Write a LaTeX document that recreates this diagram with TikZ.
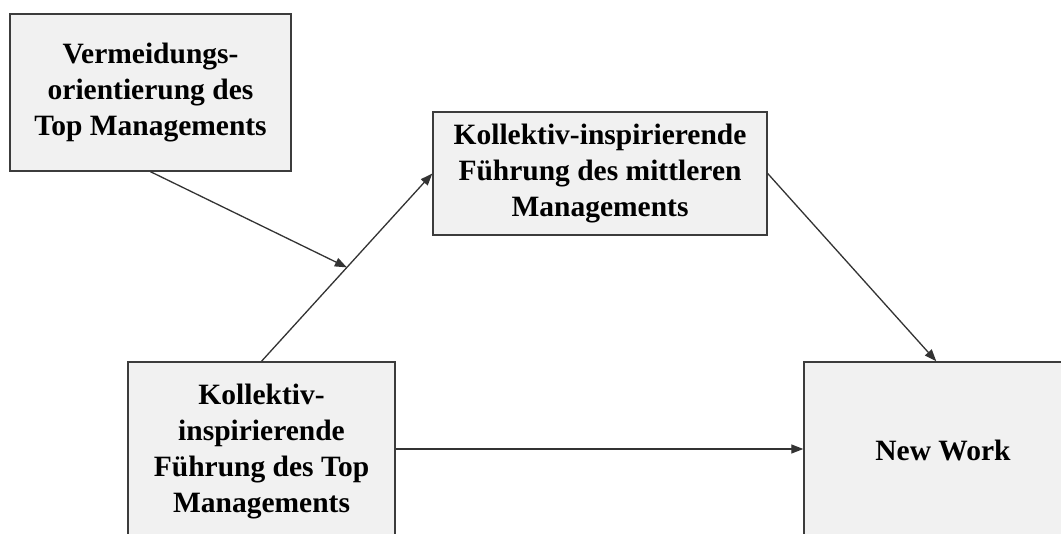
\documentclass[tikz,border=0pt]{standalone}
\usepackage{fontspec}
\setmainfont{Liberation Serif}
\usetikzlibrary{arrows.meta,calc}
\definecolor{boxfill}{HTML}{F1F1F1}
\definecolor{boxline}{HTML}{3C3C3C}
\definecolor{wire}{HTML}{333333}
\tikzset{
  box/.style={draw=boxline, fill=boxfill, line width=1.4pt, inner sep=0pt,
    align=center, font=\fontsize{29.5}{36}\selectfont\bfseries},
  link/.style={draw=wire, line width=1.3pt,
    -{Triangle[length=12pt,width=9pt]}}
}
\begin{document}
\begin{tikzpicture}[x=1pt,y=-1pt]
\useasboundingbox (0,0) rectangle (1061,534);
\clip (0,0) rectangle (1061,534);
\fill[white] (0,0) rectangle (1061,534);
% the four constructs of the model
\node[box, minimum width=281pt, minimum height=157pt] (avoid) at (150.5,92.5)
  {Vermeidungs-\\orientierung des\\Top Managements};
\node[box, minimum width=334pt, minimum height=123pt] (mid) at (600,173.5)
  {Kollektiv-inspirierende\\Führung des mittleren\\Managements};
\node[box, minimum width=267pt, minimum height=180pt] (top) at (261.5,452)
  {Kollektiv-\\inspirierende\\Führung des Top\\Managements};
\node[box, minimum width=290pt, minimum height=180pt] (nw) at (949,452)
  {\hspace*{-12pt}\raisebox{4pt}{New Work}};
% paths between the constructs
\draw[link] (top.north) -- coordinate[pos=0.5] (mod) (mid.west);
\draw[link] (mid.east) -- ($(nw.north west)+(133,0)$);
\draw[link] (top.east |- 0,449) -- (nw.west |- 0,449);
% moderating effect onto the first path
\draw[link] (avoid.south) -- (mod);
\end{tikzpicture}
\end{document}
